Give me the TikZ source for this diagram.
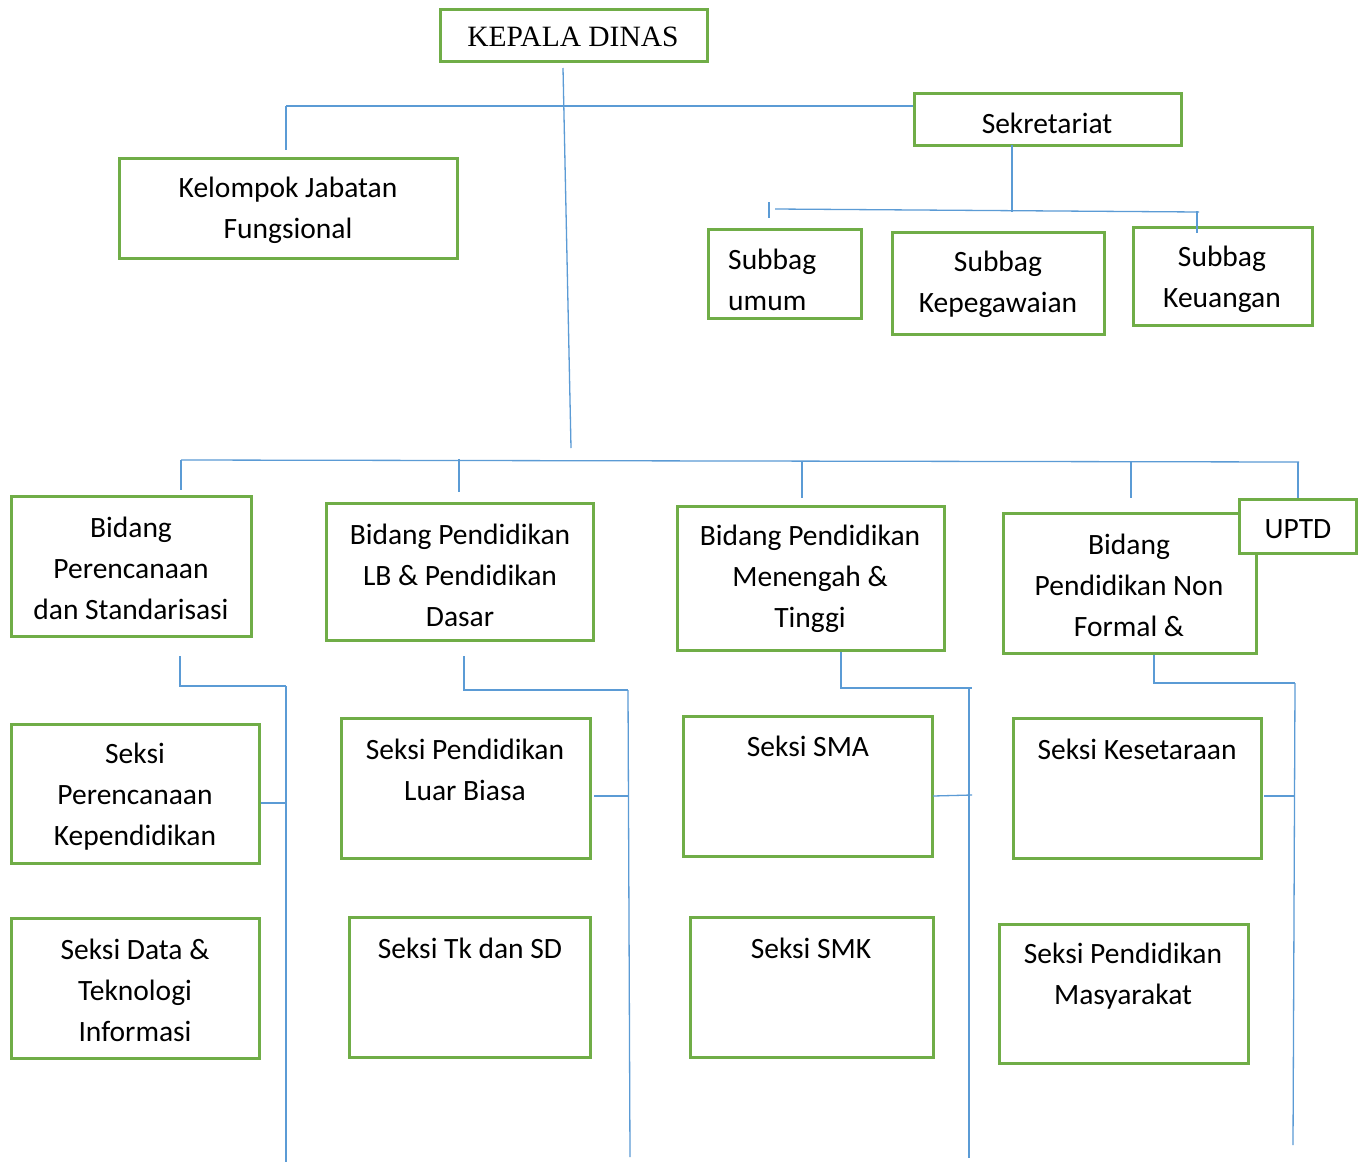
\documentclass[tikz,border=0pt]{standalone}
\usepackage{fontspec}
\setmainfont{Carlito}
\newfontfamily\tnr{Liberation Serif}
\definecolor{gr}{HTML}{70AD47}
\definecolor{bl}{HTML}{5B9BD5}
\begin{document}
\begin{tikzpicture}[x=1pt,y=-1pt,
  gbox/.style={draw=gr,line width=3pt,inner sep=0pt,fill=white},
  txt/.style={font=\fontsize{29.5}{41}\selectfont,align=center,inner sep=0pt},
  ln/.style={draw=bl,line width=1.3pt}]
\useasboundingbox (0,0) rectangle (1362,1162);
\fill[white] (0,0) rectangle (1362,1162);

% boxes
\node[gbox,minimum width=267pt,minimum height=52pt] (kd) at (573.5,35) {};
\node[gbox,minimum width=267pt,minimum height=52pt] (sek) at (1047.5,119) {};
\node[gbox,minimum width=338pt,minimum height=100pt] (kjf) at (288,208) {};
\node[gbox,minimum width=153pt,minimum height=89pt] (sbu) at (784.5,273.5) {};
\node[gbox,minimum width=212pt,minimum height=102pt] (sbk) at (998,283) {};
\node[gbox,minimum width=179pt,minimum height=98pt] (sbe) at (1222.5,276) {};
\node[gbox,minimum width=240pt,minimum height=140pt] (bp) at (131,566) {};
\node[gbox,minimum width=267pt,minimum height=137pt] (blb) at (459.5,571.5) {};
\node[gbox,minimum width=267pt,minimum height=144pt] (bmt) at (810.5,578) {};
\node[gbox,minimum width=253pt,minimum height=140pt] (bnf) at (1129.5,583) {};
\node[gbox,minimum width=117pt,minimum height=54pt] (uptd) at (1297.5,526) {};
\node[gbox,minimum width=248pt,minimum height=139pt] (spk) at (135,793.5) {};
\node[gbox,minimum width=248pt,minimum height=140pt] (sdt) at (135,988) {};
\node[gbox,minimum width=249pt,minimum height=140pt] (slb) at (465.5,788) {};
\node[gbox,minimum width=241pt,minimum height=140pt] (stk) at (469.5,987) {};
\node[gbox,minimum width=249pt,minimum height=140pt] (ssma) at (807.5,786) {};
\node[gbox,minimum width=243pt,minimum height=140pt] (ssmk) at (811.5,987) {};
\node[gbox,minimum width=248pt,minimum height=140pt] (sks) at (1137,788) {};
\node[gbox,minimum width=249pt,minimum height=139pt] (spm) at (1123.5,993.5) {};

% texts
\node[inner sep=0pt,font=\tnr\fontsize{29.5}{33}\selectfont] (tkd) at (573,37) {KEPALA DINAS};
\node[txt] (tsek) at (1047,123) {Sekretariat};
\node[txt] (tkjf) at (288,210.5) {Kelompok Jabatan\\Fungsional};
\node[txt,align=left,anchor=west] (tsbu) at (728,280) {Subbag\\umum};
\node[txt] (tsbk) at (998,284.5) {Subbag\\Kepegawaian};
\node[txt] (tsbe) at (1222,279) {Subbag\\Keuangan};
\node[txt] (tbp) at (131,568) {Bidang\\Perencanaan\\dan Standarisasi};
\node[txt] (tblb) at (460,575) {Bidang Pendidikan\\LB \& Pendidikan\\Dasar};
\node[txt] (tbmt) at (810,578.5) {Bidang Pendidikan\\Menengah \&\\Tinggi};
\node[txt] (tbnf) at (1129,585) {Bidang\\Pendidikan Non\\Formal \&};
\node[txt] (tuptd) at (1298,529) {UPTD};
\node[txt] (tspk) at (135,796.5) {Seksi\\Perencanaan\\Kependidikan};
\node[txt] (tsdt) at (135,990) {Seksi Data \&\\Teknologi\\Informasi};
\node[txt] (tslb) at (465,770) {Seksi Pendidikan\\Luar Biasa};
\node[txt] (tstk) at (470,948) {Seksi Tk dan SD};
\node[txt] (tssma) at (808,746) {Seksi SMA};
\node[txt] (tssmk) at (811,948) {Seksi SMK};
\node[txt] (tsks) at (1137,749) {Seksi Kesetaraan};
\node[txt] (tspm) at (1123,976) {Seksi Pendidikan\\Masyarakat};

% connector coordinates
\coordinate (m1) at (563,68);
\coordinate (m2) at (571,448);
\coordinate (h1) at (286,106);
\coordinate (h1b) at (286,150);
\coordinate (s1) at (1012,145);
\coordinate (s2) at (1012,212);
\coordinate (sh1) at (775,209);
\coordinate (sh2) at (1199,212);
\coordinate (tk1) at (769,202);
\coordinate (tk2) at (769,218);
\coordinate (tk3) at (1197,211);
\coordinate (tk4) at (1197,233);
\coordinate (b1) at (181,460);
\coordinate (b2) at (1299,462);
\coordinate (v1) at (181,490);
\coordinate (v2a) at (459,459);
\coordinate (v2) at (459,492);
\coordinate (v3a) at (802,461);
\coordinate (v3) at (802,498);
\coordinate (v4a) at (1131,461);
\coordinate (v4) at (1131,498);
\coordinate (v5a) at (1298,462);
% branch 1
\coordinate (p1) at (180,656);
\coordinate (p2) at (180,686);
\coordinate (p3) at (286,686);
\coordinate (p4) at (286,1162);
\coordinate (p5) at (286,803);
% branch 2
\coordinate (q1) at (464,656);
\coordinate (q2) at (464,690);
\coordinate (q3) at (628,690);
\coordinate (q4) at (630,1157);
\coordinate (q5) at (628.3,796);
\coordinate (q6) at (594,796);
% branch 3
\coordinate (r2) at (841,688);
\coordinate (r3) at (972,688);
\coordinate (r3b) at (969,688);
\coordinate (r4) at (969,1158);
\coordinate (r5) at (972,795);
\coordinate (r6) at (933,796);
% branch 4
\coordinate (u2) at (1154,683);
\coordinate (u3) at (1295,683);
\coordinate (u4) at (1293,1145);
\coordinate (u5) at (1294.6,796);
\coordinate (u6) at (1264,796);

% connectors
\draw[ln] (m1) -- (m2);
\draw[ln] (h1) -- (sek.west |- h1);
\draw[ln] (h1) -- (h1b);
\draw[ln] (s1) -- (s2);
\draw[ln] (sh1) -- (sh2);
\draw[ln] (tk1) -- (tk2);
\draw[ln] (tk3) -- (tk4);
\draw[ln] (b1) -- (b2);
\draw[ln] (b1) -- (v1);
\draw[ln] (v2a) -- (v2);
\draw[ln] (v3a) -- (v3);
\draw[ln] (v4a) -- (v4);
\draw[ln] (v5a) -- (uptd.north -| v5a);
\draw[ln] (p1) -- (p2) -- (p3);
\draw[ln] (p3) -- (p4);
\draw[ln] (spk.east |- p5) -- (p5);
\draw[ln] (q1) -- (q2) -- (q3);
\draw[ln] (q3) -- (q4);
\draw[ln] (q6) -- (q5);
\draw[ln] (bmt.south -| r2) -- (r2) -- (r3);
\draw[ln] (r3b) -- (r4);
\draw[ln] (r6) -- (r5);
\draw[ln] (bnf.south -| u2) -- (u2) -- (u3);
\draw[ln] (u3) -- (u4);
\draw[ln] (u6) -- (u5);
\end{tikzpicture}
\end{document}
